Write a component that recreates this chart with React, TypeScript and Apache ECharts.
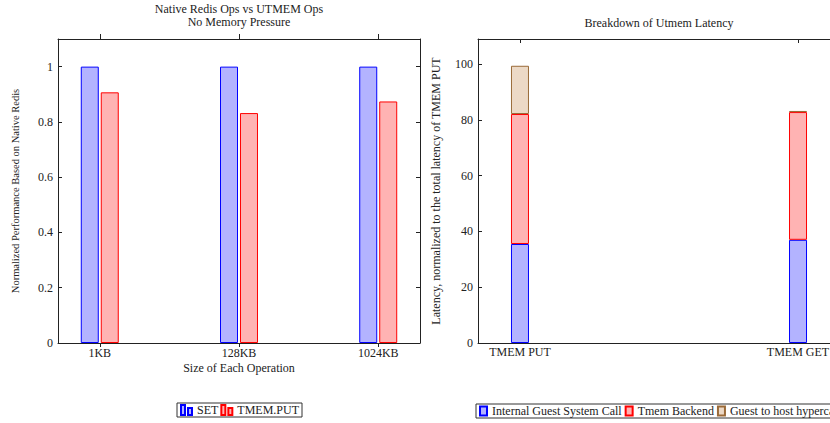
import React, { useEffect, useRef } from "react";
import * as echarts from "echarts";

// ---- Left chart data ----
const sizeCategories = ["1KB", "128KB", "1024KB"];
const setValues = [1, 1, 1];
const tmemPutValues = [0.907, 0.832, 0.874];
const leftYTicks = [0, 0.2, 0.4, 0.6, 0.8, 1];

// ---- Right chart data ----
const opCategories = ["TMEM PUT", "TMEM GET"];
const guestSyscallValues = [35.5, 37.0];
const tmemBackendValues = [46.6, 45.8];
const hypercallValues = [17.3, 0.4];
const rightYTicks = [0, 20, 40, 60, 80, 100];

const FONT = "Liberation Serif";
const TXT = "#222";
const FS = 12;
const textStyle = { fontFamily: FONT, fontSize: FS, color: TXT, fontWeight: "normal" as const };

const BLUE_FILL = "#b3b3ff";
const BLUE = "#0000ff";
const RED_FILL = "#ffb3b3";
const RED = "#ff0000";
const BROWN_FILL = "#ecd9c6";
const BROWN = "#9a6a38";

const toPairs = (vals: number[]) => vals.map((v, i) => [i, v]);
// value first, category index second (so the library stacks the value column)
const toStackPairs = (vals: number[]) => vals.map((v, i) => [v, i]);

export default function App() {
  const ref = useRef<HTMLDivElement>(null);
  useEffect(() => {
    if (!ref.current) return;
    const chart = echarts.init(ref.current, undefined, { renderer: "svg" });
    const catIdxLeft = sizeCategories.map((_, i) => i);
    const catIdxRight = opCategories.map((_, i) => i);
    const axisLine = { show: true, onZero: false, lineStyle: { color: TXT, width: 1 } };
    const option: any = {
      animation: false,
      backgroundColor: "#fff",
      textStyle: { fontFamily: FONT },
      title: [
        {
          text: "Native Redis Ops vs UTMEM Ops\nNo Memory Pressure",
          left: 239,
          top: 2,
          padding: 0,
          textAlign: "center",
          textStyle: { ...textStyle, lineHeight: 13.5 },
        },
        {
          text: "Breakdown of Utmem Latency",
          left: 659,
          top: 16,
          padding: 0,
          textAlign: "center",
          textStyle: { ...textStyle, lineHeight: 13.5 },
        },
      ],
      legend: [
        {
          data: ["SET", "TMEM.PUT"],
          left: 177,
          top: 403,
          orient: "horizontal",
          padding: [1, 3, 1, 3],
          itemGap: 2,
          itemWidth: 11,
          itemHeight: 10,
          icon: "path://M0,0H4V10H0Z M7,3H11V10H7Z",
          borderColor: "#333",
          borderWidth: 1,
          textStyle: { ...textStyle },
          selectedMode: false,
        },
        {
          data: ["Internal Guest System Call", "Tmem Backend", "Guest to host hypercall"],
          left: 476,
          top: 404,
          orient: "horizontal",
          padding: [1, 3, 1, 3],
          itemGap: 3,
          itemWidth: 7,
          itemHeight: 9,
          icon: "rect",
          borderColor: "#333",
          borderWidth: 1,
          textStyle: { ...textStyle },
          selectedMode: false,
        },
      ],
      grid: [
        { left: 58, top: 39, width: 362, height: 304, outerBoundsMode: "none", containLabel: false },
        { left: 478, top: 39, width: 362, height: 304, outerBoundsMode: "none", containLabel: false },
      ],
      xAxis: [
        {
          type: "value",
          gridIndex: 0,
          position: "bottom",
          min: -0.3,
          max: 2.3,
          axisLine,
          axisTick: { show: true, inside: false, length: 4, customValues: catIdxLeft, lineStyle: { color: TXT } },
          axisLabel: {
            show: true,
            customValues: catIdxLeft,
            formatter: (v: number) => sizeCategories[Math.round(v)] ?? "",
            margin: 4,
            fontFamily: FONT,
            fontSize: FS,
            color: TXT,
          },
          splitLine: { show: false },
          name: "Size of Each Operation",
          nameLocation: "middle",
          nameGap: 19,
          nameMoveOverlap: false,
          nameTextStyle: { ...textStyle },
        },
        {
          type: "value",
          gridIndex: 0,
          position: "top",
          min: -0.3,
          max: 2.3,
          axisLine,
          axisTick: { show: true, inside: false, length: 5, customValues: catIdxLeft, lineStyle: { color: TXT } },
          axisLabel: { show: false },
          splitLine: { show: false },
        },
        {
          type: "value",
          gridIndex: 1,
          position: "bottom",
          min: -0.151,
          max: 1.151,
          axisLine,
          axisTick: { show: true, inside: true, length: 4, customValues: catIdxRight, lineStyle: { color: TXT } },
          axisLabel: {
            show: true,
            customValues: catIdxRight,
            formatter: (v: number) => opCategories[Math.round(v)] ?? "",
            margin: 3,
            fontFamily: FONT,
            fontSize: FS,
            color: TXT,
          },
          splitLine: { show: false },
        },
        {
          type: "value",
          gridIndex: 1,
          position: "top",
          min: -0.151,
          max: 1.151,
          axisLine,
          axisTick: { show: true, inside: true, length: 4, customValues: catIdxRight, lineStyle: { color: TXT } },
          axisLabel: { show: false },
          splitLine: { show: false },
        },
      ],
      yAxis: [
        {
          type: "value",
          gridIndex: 0,
          position: "left",
          min: 0,
          max: 1.1,
          axisLine,
          axisTick: { show: true, inside: true, length: 4, customValues: leftYTicks, lineStyle: { color: TXT } },
          axisLabel: {
            show: true,
            customValues: leftYTicks,
            formatter: (v: number) => String(Math.round(v * 10) / 10),
            margin: 5,
            fontFamily: FONT,
            fontSize: FS,
            color: TXT,
          },
          splitLine: { show: false },
          name: "Normalized Performance Based on Native Redis",
          nameLocation: "middle",
          nameGap: 37,
          nameMoveOverlap: false,
          nameTextStyle: { ...textStyle, fontSize: 10.5 },
        },
        {
          type: "value",
          gridIndex: 0,
          position: "right",
          min: 0,
          max: 1.1,
          axisLine,
          axisTick: { show: true, inside: true, length: 4, customValues: leftYTicks, lineStyle: { color: TXT } },
          axisLabel: { show: false },
          splitLine: { show: false },
        },
        {
          type: "value",
          gridIndex: 1,
          position: "left",
          min: 0,
          max: 109,
          axisLine,
          axisTick: { show: true, inside: true, length: 4, customValues: rightYTicks, lineStyle: { color: TXT } },
          axisLabel: {
            show: true,
            customValues: rightYTicks,
            formatter: (v: number) => String(Math.round(v)),
            margin: 5,
            fontFamily: FONT,
            fontSize: FS,
            color: TXT,
          },
          splitLine: { show: false },
          name: "Latency, normalized to the total latency of TMEM PUT",
          nameLocation: "middle",
          nameGap: 36,
          nameMoveOverlap: false,
          nameTextStyle: { ...textStyle },
        },
      ],
      series: [
        {
          name: "SET",
          type: "bar",
          xAxisIndex: 0,
          yAxisIndex: 0,
          barWidth: 18,
          barGap: "11%",
          data: toPairs(setValues),
          itemStyle: { color: BLUE_FILL, borderColor: BLUE, borderWidth: 1 },
        },
        {
          name: "TMEM.PUT",
          type: "bar",
          xAxisIndex: 0,
          yAxisIndex: 0,
          barWidth: 18,
          barGap: "11%",
          data: toPairs(tmemPutValues),
          itemStyle: { color: RED_FILL, borderColor: RED, borderWidth: 1 },
        },
        {
          name: "Internal Guest System Call",
          type: "bar",
          stack: "latency",
          xAxisIndex: 2,
          yAxisIndex: 2,
          barWidth: 18,
          encode: { x: 1, y: 0 },
          data: toStackPairs(guestSyscallValues),
          itemStyle: { color: BLUE_FILL, borderColor: BLUE, borderWidth: 1 },
        },
        {
          name: "Tmem Backend",
          type: "bar",
          stack: "latency",
          xAxisIndex: 2,
          yAxisIndex: 2,
          barWidth: 18,
          encode: { x: 1, y: 0 },
          data: toStackPairs(tmemBackendValues),
          itemStyle: { color: RED_FILL, borderColor: RED, borderWidth: 1 },
        },
        {
          name: "Guest to host hypercall",
          type: "bar",
          stack: "latency",
          xAxisIndex: 2,
          yAxisIndex: 2,
          barWidth: 18,
          encode: { x: 1, y: 0 },
          data: toStackPairs(hypercallValues),
          itemStyle: { color: BROWN_FILL, borderColor: BROWN, borderWidth: 1 },
        },
      ],
    };
    chart.setOption(option);
    return () => chart.dispose();
  }, []);

  return (
    <div
      style={{
        position: "fixed",
        left: 0,
        top: 0,
        width: 830,
        height: 423,
        overflow: "hidden",
        background: "#fff",
      }}
    >
      <div ref={ref} style={{ width: 860, height: 423 }} />
    </div>
  );
}
